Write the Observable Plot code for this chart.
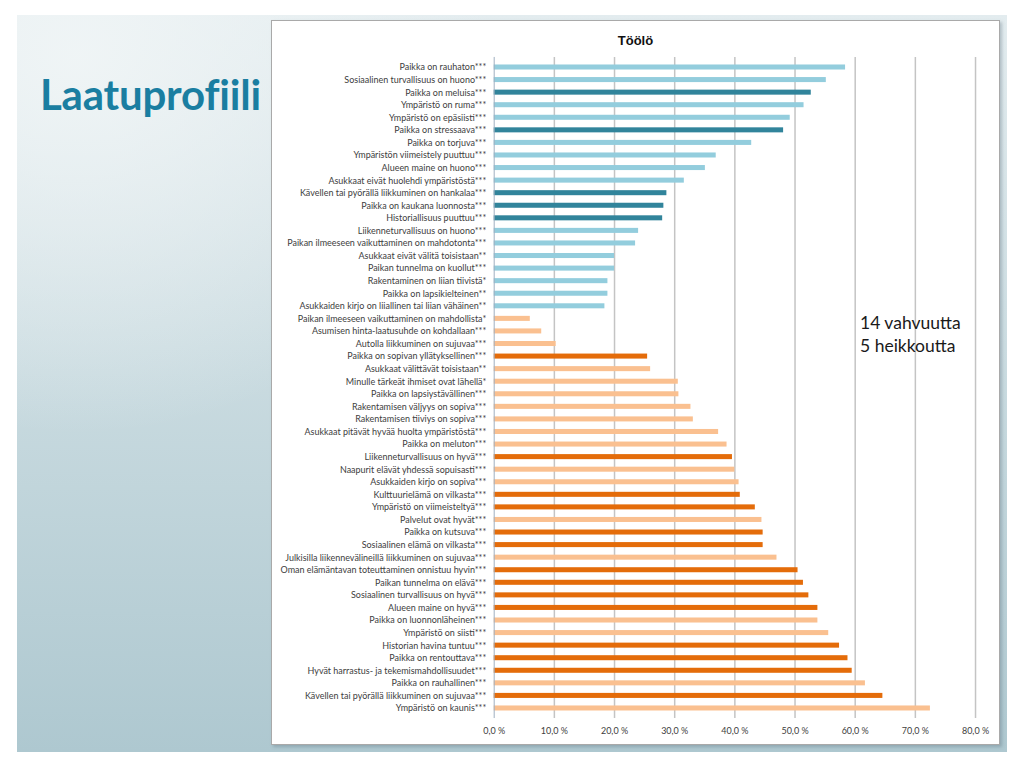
<!DOCTYPE html>
<html>
<head>
<meta charset="utf-8">
<script src="https://cdn.jsdelivr.net/npm/d3@7"></script>
<script src="https://cdn.jsdelivr.net/npm/@observablehq/plot@0.6"></script>
<style>
  html, body { margin: 0; padding: 0; background: #ffffff; width: 1024px; height: 768px; overflow: hidden; }
  #slide {
    position: absolute; left: 17px; top: 15px; width: 990px; height: 737px;
    background:
      radial-gradient(ellipse 420px 380px at 60px 40px, rgba(240,245,246,0.95), rgba(240,245,246,0) 100%),
      linear-gradient(to bottom, #e3ecef 0%, #cbdce1 45%, #aec8d0 100%);
  }
  #heading {
    position: absolute; left: 40px; top: 69px; margin: 0;
    font-family: Lato, "Open Sans", sans-serif; font-weight: 700; font-size: 42px;
    color: #1a7ea1; letter-spacing: -0.2px;
  }
  #panel {
    position: absolute; left: 271px; top: 20px; width: 727px; height: 723px;
    background: #ffffff; border: 1px solid #a9a9a9;
    box-shadow: 2px 2px 3px rgba(90,110,120,0.35);
  }
  #chartTitle {
    position: absolute; left: 0; top: 12px; width: 727px; text-align: center;
    font-family: "Liberation Sans", Arial, sans-serif; font-weight: 700; font-size: 13px; color: #111;
  }
  #plot { position: absolute; left: -1px; top: -1px; }
  #note {
    position: absolute; left: 588px; top: 290px;
    font-family: Lato, "Open Sans", sans-serif; font-size: 17.5px; line-height: 23px; color: #1a1a1a;
  }
</style>
</head>
<body>
<div id="slide"></div>
<h1 id="heading">Laatuprofiili</h1>
<div id="panel">
  <div id="plot"></div>
  <div id="chartTitle">Töölö</div>
  <div id="note">14 vahvuutta<br>5 heikkoutta</div>
</div>
<script>
const categories = [
  "Paikka on rauhaton***",
  "Sosiaalinen turvallisuus on huono***",
  "Paikka on meluisa***",
  "Ympäristö on ruma***",
  "Ympäristö on epäsiisti***",
  "Paikka on stressaava***",
  "Paikka on torjuva***",
  "Ympäristön viimeistely puuttuu***",
  "Alueen maine on huono***",
  "Asukkaat eivät huolehdi ympäristöstä***",
  "Kävellen tai pyörällä liikkuminen on hankalaa***",
  "Paikka on kaukana luonnosta***",
  "Historiallisuus puuttuu***",
  "Liikenneturvallisuus on huono***",
  "Paikan ilmeeseen vaikuttaminen on mahdotonta***",
  "Asukkaat eivät välitä toisistaan**",
  "Paikan tunnelma on kuollut***",
  "Rakentaminen on liian tiivistä*",
  "Paikka on lapsikielteinen**",
  "Asukkaiden kirjo on liiallinen tai liian vähäinen**",
  "Paikan ilmeeseen vaikuttaminen on mahdollista*",
  "Asumisen hinta-laatusuhde on kohdallaan***",
  "Autolla liikkuminen on sujuvaa***",
  "Paikka on sopivan yllätyksellinen***",
  "Asukkaat välittävät toisistaan**",
  "Minulle tärkeät ihmiset ovat lähellä*",
  "Paikka on lapsiystävällinen***",
  "Rakentamisen väljyys on sopiva***",
  "Rakentamisen tiiviys on sopiva***",
  "Asukkaat pitävät hyvää huolta ympäristöstä***",
  "Paikka on meluton***",
  "Liikenneturvallisuus on hyvä***",
  "Naapurit elävät yhdessä sopuisasti***",
  "Asukkaiden kirjo on sopiva***",
  "Kulttuurielämä on vilkasta***",
  "Ympäristö on viimeisteltyä***",
  "Palvelut ovat hyvät***",
  "Paikka on kutsuva***",
  "Sosiaalinen elämä on vilkasta***",
  "Julkisilla liikennevälineillä liikkuminen on sujuvaa***",
  "Oman elämäntavan toteuttaminen onnistuu hyvin***",
  "Paikan tunnelma on elävä***",
  "Sosiaalinen turvallisuus on hyvä***",
  "Alueen maine on hyvä***",
  "Paikka on luonnonläheinen***",
  "Ympäristö on siisti***",
  "Historian havina tuntuu***",
  "Paikka on rentouttava***",
  "Hyvät harrastus- ja tekemismahdollisuudet***",
  "Paikka on rauhallinen***",
  "Kävellen tai pyörällä liikkuminen on sujuvaa***",
  "Ympäristö on kaunis***"
];

const values = [
  58.4, 55.2, 52.7, 51.5, 49.2, 48.1, 42.8, 36.9, 35.1, 31.6,
  28.7, 28.2, 28.0, 24.0, 23.5, 20.0, 20.0, 18.9, 18.9, 18.4,
  6.0, 7.9, 10.3, 25.5, 26.0, 30.6, 30.7, 32.7, 33.1, 37.3,
  38.7, 39.6, 40.0, 40.7, 40.9, 43.4, 44.5, 44.7, 44.7, 47.0,
  50.5, 51.4, 52.3, 53.8, 53.8, 55.6, 57.4, 58.8, 59.5, 61.7,
  64.6, 72.5
];

// neg = negative statement, heikkous = key weakness, pos = positive statement, vahvuus = key strength
const kinds = [
  "neg", "neg", "heikkous", "neg", "neg", "heikkous", "neg", "neg", "neg", "neg",
  "heikkous", "heikkous", "heikkous", "neg", "neg", "neg", "neg", "neg", "neg", "neg",
  "pos", "pos", "pos", "vahvuus", "pos", "pos", "pos", "pos", "pos", "pos",
  "pos", "vahvuus", "pos", "pos", "vahvuus", "vahvuus", "pos", "vahvuus", "vahvuus", "pos",
  "vahvuus", "vahvuus", "vahvuus", "vahvuus", "pos", "pos", "vahvuus", "vahvuus", "vahvuus", "pos",
  "vahvuus", "pos"
];

const kindDomain = ["neg", "heikkous", "pos", "vahvuus"];
const kindColors = ["#93cddd", "#31849b", "#fac090", "#e46c0a"];

const xTicks = [0, 10, 20, 30, 40, 50, 60, 70, 80];
const xTickLabels = ["0,0 %", "10,0 %", "20,0 %", "30,0 %", "40,0 %", "50,0 %", "60,0 %", "70,0 %", "80,0 %"];

const data = categories.map((c, i) => ({label: c, value: values[i], kind: kinds[i]}));

const chart = Plot.plot({
  width: 729,
  height: 725,
  marginLeft: 223,
  marginRight: 24,
  marginTop: 37,
  marginBottom: 26,
  style: {fontFamily: "Lato, 'Open Sans', sans-serif", fontSize: "9px", color: "#404040", background: "transparent"},
  x: {domain: [0, 80], ticks: xTicks, tickFormat: d => xTickLabels[xTicks.indexOf(d)], tickSize: 0, tickPadding: 9, label: null},
  y: {domain: categories, padding: 0.6, tickSize: 0, tickPadding: 8, label: null},
  color: {domain: kindDomain, range: kindColors},
  marks: [
    Plot.ruleX(xTicks.slice(1), {stroke: "#c4c4c4", strokeWidth: 1.5}),
    Plot.barX(data, {x: "value", y: "label", fill: "kind"}),
    Plot.ruleX([0], {stroke: "#9fb0c0", strokeWidth: 1})
  ]
});
document.getElementById("plot").appendChild(chart);
</script>
</body>
</html>
